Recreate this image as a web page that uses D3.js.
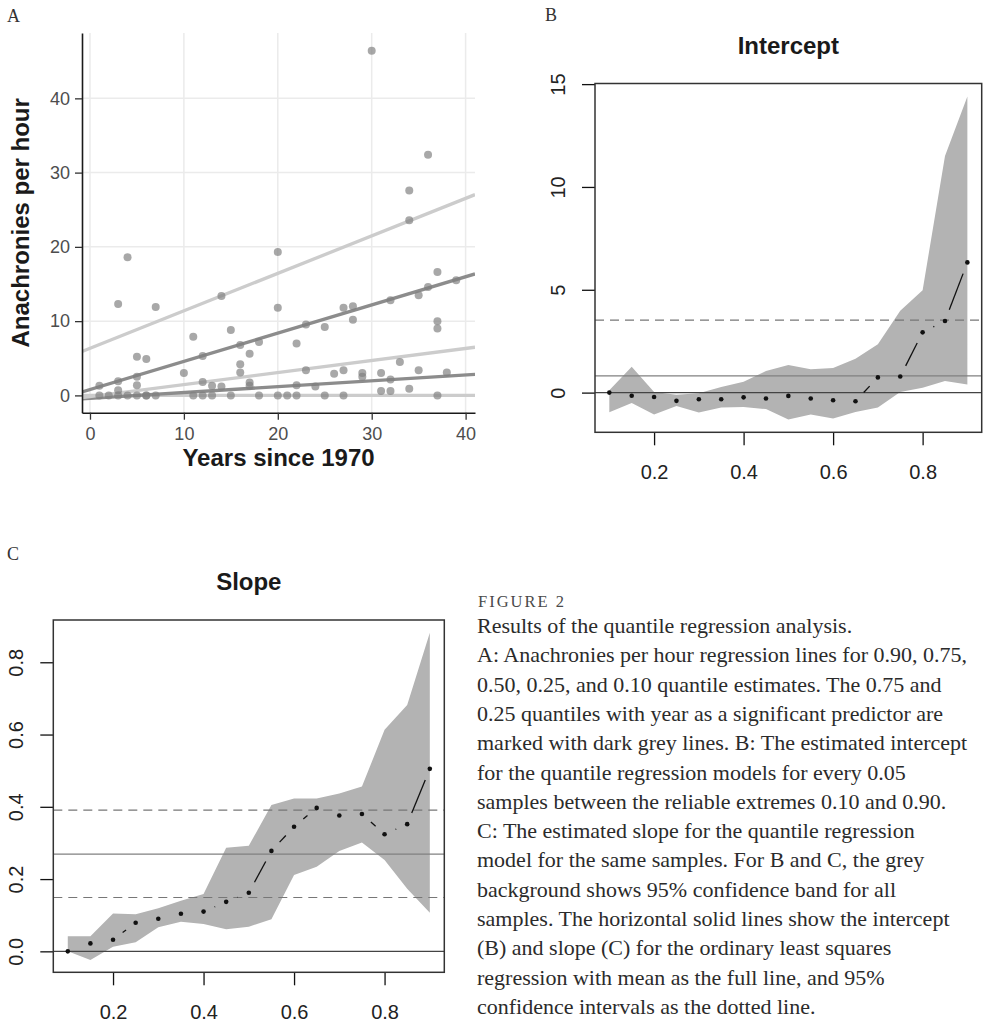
<!DOCTYPE html>
<html>
<head>
<meta charset="utf-8">
<script src="https://cdn.jsdelivr.net/npm/d3@7"></script>
<style>
  body { margin: 0; background: #fff; }
</style>
</head>
<body>
<div id="fig"></div>
<script>

// A: anachronies per hour against years since 1970
years = [1, 1, 2, 3, 3, 3, 3, 4, 4, 5, 5, 5, 5, 6, 6, 6, 7, 7,
         10, 11, 11, 12, 12, 12, 13, 13, 14, 14, 15, 15, 16, 16, 16, 17, 17, 17, 18, 18,
         20, 20, 20, 21, 22, 22, 22, 23, 23, 24, 25, 25, 26, 27, 27, 27, 28, 28, 29, 29,
         30, 31, 31, 32, 32, 32, 33, 34, 34, 34, 35, 35, 36, 36, 37, 37, 37, 37, 38, 39]
anachronies = [1.3, 0, 0, 12.3, 1.9, 0.7, 0, 18.6, 0, 5.2, 2.5, 1.35, 0, 4.9, 0, 0, 11.9, 0,
               3.0, 7.9, 0, 5.3, 1.8, 0, 1.3, 0, 13.4, 1.2, 8.8, 0, 6.8, 4.2, 3.1, 5.6, 1.75, 1.3, 7.2, 0,
               19.3, 11.8, 0, 0, 7.0, 1.35, 0, 9.55, 3.4, 1.2, 9.2, 0, 2.9, 11.8, 3.4, 0, 12.0, 10.2, 3.0, 2.5,
               46.4, 3.0, 0.6, 12.8, 2.15, 0.6, 4.5, 27.6, 23.6, 0.9, 13.5, 3.4, 32.4, 14.6, 16.6, 10.0, 9.0, 0, 3.1, 15.5]

line_taus       = [0.10, 0.25, 0.50, 0.75, 0.90]
line_intercepts = [0, -0.40, -0.16, 0.78, 6.33]
line_slopes     = [0, 0.079, 0.162, 0.380, 0.505]
significant     = [0.25, 0.75]

// B and C: quantile regression estimates
taus = [0.10, 0.15, 0.20, 0.25, 0.30, 0.35, 0.40, 0.45, 0.50, 0.55, 0.60, 0.65, 0.70, 0.75, 0.80, 0.85, 0.90]

intercept_est = [0, -0.15, -0.21, -0.40, -0.32, -0.32, -0.23, -0.29, -0.16, -0.29, -0.37, -0.42, 0.74, 0.78, 2.93, 3.48, 6.33]
intercept_lo  = [-0.95, -0.50, -1.07, -0.65, -0.97, -0.73, -0.70, -0.80, -1.31, -1.07, -1.26, -0.94, -0.73, 0.03, 0.24, 0.57, 0.40]
intercept_hi  = [0.11, 1.26, 0.03, -0.11, -0.03, 0.27, 0.53, 1.05, 1.34, 1.13, 1.20, 1.65, 2.35, 3.98, 4.98, 11.5, 14.4]

slope_est = [0, 0.022, 0.032, 0.079, 0.090, 0.104, 0.110, 0.137, 0.162, 0.278, 0.345, 0.397, 0.376, 0.380, 0.324, 0.352, 0.505]
slope_lo  = [0, -0.024, 0.013, 0.025, 0.067, 0.082, 0.076, 0.061, 0.068, 0.089, 0.211, 0.234, 0.278, 0.301, 0.253, 0.173, 0.107]
slope_hi  = [0.042, 0.042, 0.105, 0.103, 0.119, 0.140, 0.159, 0.287, 0.292, 0.405, 0.423, 0.423, 0.437, 0.456, 0.613, 0.682, 0.882]

ols_intercept    = 0.81
ols_intercept_ci = [3.52]
ols_slope        = 0.269
ols_slope_ci     = [0.149, 0.391]

x_ticks_q         = [0.2, 0.4, 0.6, 0.8]
y_ticks_intercept = [0, 5, 10, 15]
y_ticks_slope     = [0, 0.2, 0.4, 0.6, 0.8]

caption_head = "FIGURE 2"
caption_lines = [
  "Results of the quantile regression analysis.",
  "A: Anachronies per hour regression lines for 0.90, 0.75,",
  "0.50, 0.25, and 0.10 quantile estimates. The 0.75 and",
  "0.25 quantiles with year as a significant predictor are",
  "marked with dark grey lines. B: The estimated intercept",
  "for the quantile regression models for every 0.05",
  "samples between the reliable extremes 0.10 and 0.90.",
  "C: The estimated slope for the quantile regression",
  "model for the same samples. For B and C, the grey",
  "background shows 95% confidence band for all",
  "samples. The horizontal solid lines show the intercept",
  "(B) and slope (C) for the ordinary least squares",
  "regression with mean as the full line, and 95%",
  "confidence intervals as the dotted line."
]

var sans  = "'Liberation Sans', Arial, Helvetica, sans-serif"
var serif = "'Liberation Serif', 'Times New Roman', serif"

var svg = d3.select("#fig").append("svg")
  .attr("width", 984).attr("height", 1024)
  .style("font-family", sans)

// ---------- panel A ----------
var xa = d3.scaleLinear().domain([-0.85, 41]).range([82, 475])
var ya = d3.scaleLinear().domain([-2.33, 48.8]).range([412.7, 33])
var ga = svg.append("g")

ga.append("clipPath").attr("id", "clipA").append("rect")
  .attr("x", xa.range()[0]).attr("y", ya.range()[1])
  .attr("width", xa.range()[1] - xa.range()[0])
  .attr("height", ya.range()[0] - ya.range()[1])

ga.selectAll(".gridx").data(xa.ticks(5)).enter().append("line")
  .attr("x1", function(d) { return xa(d) }).attr("x2", function(d) { return xa(d) })
  .attr("y1", ya.range()[0]).attr("y2", ya.range()[1])
  .attr("stroke", "#ebebeb").attr("stroke-width", 1.5)
ga.selectAll(".gridy").data(ya.ticks(5)).enter().append("line")
  .attr("x1", xa.range()[0]).attr("x2", xa.range()[1])
  .attr("y1", function(d) { return ya(d) }).attr("y2", function(d) { return ya(d) })
  .attr("stroke", "#ebebeb").attr("stroke-width", 1.5)

var qlines = line_taus.map(function(t, i) {
  return {tau: t, a: line_intercepts[i], b: line_slopes[i]}
})
ga.append("g").attr("clip-path", "url(#clipA)")
  .selectAll("line").data(qlines).enter().append("line")
  .attr("x1", xa(xa.domain()[0])).attr("x2", xa(xa.domain()[1]))
  .attr("y1", function(d) { return ya(d.a + d.b * xa.domain()[0]) })
  .attr("y2", function(d) { return ya(d.a + d.b * xa.domain()[1]) })
  .attr("stroke", function(d) { return significant.indexOf(d.tau) >= 0 ? "#8c8c8c" : "#cccccc" })
  .attr("stroke-width", 3.3)

ga.selectAll(".pt").data(years).enter().append("circle")
  .attr("cx", function(d) { return xa(d) })
  .attr("cy", function(d, i) { return ya(anachronies[i]) })
  .attr("r", 4)
  .attr("fill", "#7f7f7f").attr("fill-opacity", 0.68)

var axA_x = ga.append("g").attr("transform", "translate(0," + ya.range()[0] + ")")
  .call(d3.axisBottom(xa).ticks(5).tickSize(7).tickPadding(7.5).tickSizeOuter(0))
var axA_y = ga.append("g").attr("transform", "translate(" + xa.range()[0] + ",0)")
  .call(d3.axisLeft(ya).ticks(5).tickSize(7).tickPadding(5).tickSizeOuter(0))
;[axA_x, axA_y].forEach(function(ax) {
  ax.attr("font-family", sans).attr("font-size", 18)
  ax.select(".domain").attr("stroke", "#1a1a1a").attr("stroke-width", 1.6)
  ax.selectAll(".tick line").attr("stroke", "#333").attr("stroke-width", 1.3)
  ax.selectAll(".tick text").attr("fill", "#4d4d4d")
})

ga.append("text").attr("x", (xa.range()[0] + xa.range()[1]) / 2).attr("y", 466)
  .attr("text-anchor", "middle").attr("font-size", 24).attr("font-weight", "bold")
  .attr("fill", "#1a1a1a").text("Years since 1970")
ga.append("text")
  .attr("transform", "translate(29," + (ya.range()[0] + ya.range()[1]) / 2 + ") rotate(-90)")
  .attr("text-anchor", "middle").attr("font-size", 24).attr("font-weight", "bold")
  .attr("fill", "#1a1a1a").text("Anachronies per hour")

// ---------- panels B and C ----------
function quantile_panel(o) {
  var g = svg.append("g")
  var x = d3.scaleLinear().domain([0.068, 0.932]).range([o.left, o.right])
  var y = d3.scaleLinear().domain(o.ydom).range([o.bottom, o.top])

  g.append("clipPath").attr("id", o.id).append("rect")
    .attr("x", o.left).attr("y", o.top)
    .attr("width", o.right - o.left).attr("height", o.bottom - o.top)
  var inner = g.append("g").attr("clip-path", "url(#" + o.id + ")")

  var area = d3.area()
    .x(function(d, i) { return x(taus[i]) })
    .y0(function(d, i) { return y(o.lo[i]) })
    .y1(function(d, i) { return y(o.hi[i]) })
  inner.append("path").datum(taus).attr("d", area).attr("fill", "#b3b3b3")

  // reference lines: zero, OLS estimate, OLS confidence limits
  inner.append("line").attr("x1", o.left).attr("x2", o.right)
    .attr("y1", y(0)).attr("y2", y(0))
    .attr("stroke", "#444").attr("stroke-width", 1.3)
  inner.append("line").attr("x1", o.left).attr("x2", o.right)
    .attr("y1", y(o.ols)).attr("y2", y(o.ols))
    .attr("stroke", "#808080").attr("stroke-width", 1.3)
  inner.selectAll(".ci").data(o.ci).enter().append("line")
    .attr("x1", o.left).attr("x2", o.right)
    .attr("y1", function(d) { return y(d) }).attr("y2", function(d) { return y(d) })
    .attr("stroke", "#777").attr("stroke-width", 1.2).attr("stroke-dasharray", "9,6")

  // R's type="b": segments that stop short of each point
  var gap = 12
  var segs = []
  for (var i = 0; i < taus.length - 1; i++) {
    var x1 = x(taus[i]), y1 = y(o.est[i]), x2 = x(taus[i + 1]), y2 = y(o.est[i + 1])
    var len = Math.sqrt((x2 - x1) * (x2 - x1) + (y2 - y1) * (y2 - y1))
    if (len > 2 * gap) {
      var ux = (x2 - x1) / len, uy = (y2 - y1) / len
      segs.push([x1 + ux * gap, y1 + uy * gap, x2 - ux * gap, y2 - uy * gap])
    }
  }
  inner.selectAll(".seg").data(segs).enter().append("line")
    .attr("x1", function(d) { return d[0] }).attr("y1", function(d) { return d[1] })
    .attr("x2", function(d) { return d[2] }).attr("y2", function(d) { return d[3] })
    .attr("stroke", "#111").attr("stroke-width", 1.3)
  inner.selectAll(".dot").data(taus).enter().append("circle")
    .attr("cx", function(d) { return x(d) })
    .attr("cy", function(d, i) { return y(o.est[i]) })
    .attr("r", 2.3).attr("fill", "#111")

  var ax = g.append("g").attr("transform", "translate(0," + o.bottom + ")")
    .call(d3.axisBottom(x).tickValues(x_ticks_q).tickFormat(d3.format(".1f"))
      .tickSize(13).tickPadding(20).tickSizeOuter(0))
  var ay = g.append("g").attr("transform", "translate(" + o.left + ",0)")
    .call(d3.axisLeft(y).tickValues(o.yticks).tickFormat(o.yfmt)
      .tickSize(13).tickSizeOuter(0))
  ay.selectAll(".tick text")
    .attr("transform", "rotate(-90)").attr("x", 0).attr("y", -30).attr("dy", 0)
    .attr("text-anchor", "middle")
  ;[ax, ay].forEach(function(a) {
    a.attr("font-family", sans).attr("font-size", 20)
    a.select(".domain").remove()
    a.selectAll(".tick line").attr("stroke", "#111").attr("stroke-width", 1.3)
    a.selectAll(".tick text").attr("fill", "#222")
  })

  g.append("rect").attr("x", o.left).attr("y", o.top)
    .attr("width", o.right - o.left).attr("height", o.bottom - o.top)
    .attr("fill", "none").attr("stroke", "#333").attr("stroke-width", 1.5)

  g.append("text").attr("x", (o.left + o.right) / 2).attr("y", o.titleY)
    .attr("text-anchor", "middle").attr("font-size", 24).attr("font-weight", "bold")
    .attr("fill", "#1a1a1a").text(o.title)
}

quantile_panel({
  id: "clipB", title: "Intercept", titleY: 53.5,
  left: 595, right: 981.7, top: 83.5, bottom: 432.3,
  ydom: [-1.93, 15.03], yticks: y_ticks_intercept, yfmt: d3.format("d"),
  est: intercept_est, lo: intercept_lo, hi: intercept_hi,
  ols: ols_intercept, ci: ols_intercept_ci
})

quantile_panel({
  id: "clipC", title: "Slope", titleY: 589.5,
  left: 53.3, right: 444.3, top: 620, bottom: 972.3,
  ydom: [-0.058, 0.917], yticks: y_ticks_slope, yfmt: d3.format(".1f"),
  est: slope_est, lo: slope_lo, hi: slope_hi,
  ols: ols_slope, ci: ols_slope_ci
})

// panel letters
var letters = [["A", 7, 21.7], ["B", 545, 20.7], ["C", 7, 560]]
svg.selectAll(".letter").data(letters).enter().append("text")
  .attr("x", function(d) { return d[1] }).attr("y", function(d) { return d[2] })
  .attr("font-family", serif).attr("font-size", 18).attr("fill", "#333")
  .text(function(d) { return d[0] })

// caption
var cap = svg.append("g").attr("font-family", serif).attr("fill", "#2b2b2b")
cap.append("text").attr("x", 478).attr("y", 607)
  .attr("font-size", 16.5).attr("letter-spacing", 2).attr("fill", "#4a4a4a")
  .text(caption_head)
cap.selectAll(".cl").data(caption_lines).enter().append("text")
  .attr("x", 477).attr("y", function(d, i) { return 633 + i * 29.3 })
  .attr("font-size", 22)
  .text(function(d) { return d })

</script>
</body>
</html>
